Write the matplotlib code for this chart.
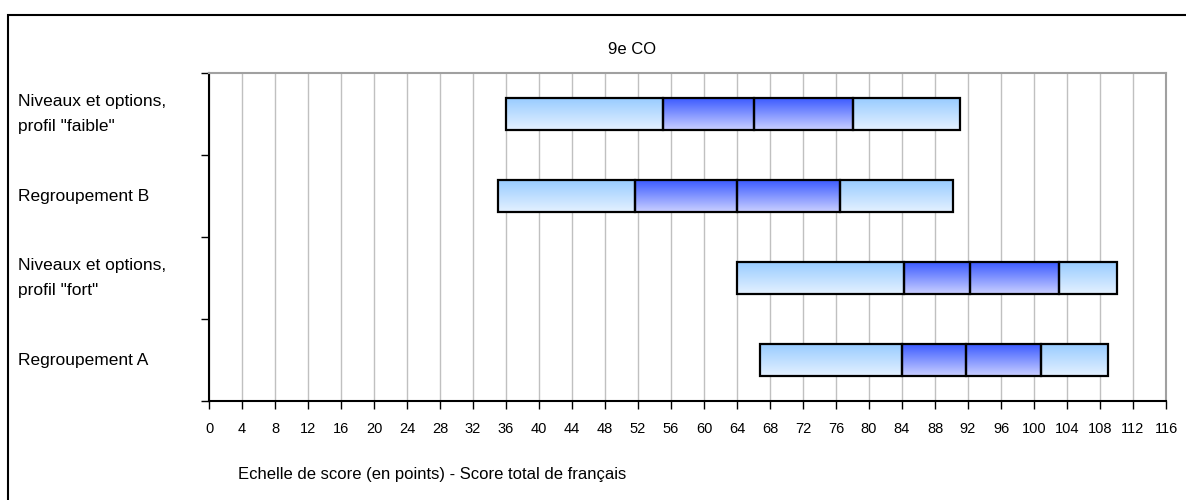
import matplotlib
matplotlib.use("Agg")
import matplotlib.pyplot as plt
import numpy as np
from matplotlib.colors import LinearSegmentedColormap
from matplotlib.patches import Rectangle

plt.rcParams['font.family'] = ['Liberation Sans Narrow', 'Liberation Sans', 'DejaVu Sans']

title = "9e CO"
categories = ['Niveaux et options,\nprofil "faible"', 'Regroupement B',
              'Niveaux et options,\nprofil "fort"', 'Regroupement A']
# boundaries of the segments (score points)
p_start = [36, 35, 64, 66.8]
p_q1 = [55, 51.6, 84.2, 84]
p_med = [66, 64, 92.2, 91.8]
p_q3 = [78, 76.5, 103, 100.9]
p_end = [91, 90.2, 110, 109]
xticks = list(range(0, 117, 4))
xlabel = "Echelle de score (en points) - Score total de français"

W, H = 1186, 500
fig = plt.figure(figsize=(W/100, H/100), dpi=100)
ax = fig.add_axes([209/W, 1-401/H, (1166-209)/W, (401-73)/H])

n = len(categories)
ypos = [n - 0.5 - i for i in range(n)]
bh = 0.39

light = LinearSegmentedColormap.from_list('l', ['#E4F1FF', '#99CCFF'])
dark = LinearSegmentedColormap.from_list('d', ['#C9CFFF', '#3D5CFF'])
grad = np.linspace(0, 1, 64).reshape(-1, 1)

segments = [(p_start, p_q1, light), (p_q1, p_med, dark),
            (p_med, p_q3, dark), (p_q3, p_end, light)]
for lo, hi, cmap in segments:
    widths = [h - l for l, h in zip(lo, hi)]
    bars = ax.barh(ypos, widths, left=lo, height=bh, color='none',
                   edgecolor='black', linewidth=1.6, zorder=3)
    for b in bars:
        x0, y0 = b.get_x(), b.get_y()
        im = ax.imshow(grad, extent=[x0, x0 + b.get_width(), y0, y0 + b.get_height()],
                       origin='lower', cmap=cmap, aspect='auto', zorder=2,
                       interpolation='bilinear')
        im.set_clip_path(b)

ax.set_xlim(0, 116)
ax.set_ylim(0, n)
ax.set_xticks(xticks)
ax.set_xticklabels([str(t) for t in xticks], fontsize=10.5)
ax.set_yticks(range(n + 1))
ax.set_yticklabels([])
ax.tick_params(axis='x', length=6, width=1, direction='out', pad=9)
ax.tick_params(axis='y', length=6, width=1, direction='out')
ax.grid(axis='x', color='#c0c0c0', linewidth=1, zorder=0)
ax.set_axisbelow(True)
for s in ['top', 'right']:
    ax.spines[s].set_color('#a0a0a0')
    ax.spines[s].set_linewidth(1.5)
for s in ['left', 'bottom']:
    ax.spines[s].set_color('black')
    ax.spines[s].set_linewidth(1.5)

for y, lab in zip(ypos, categories):
    fig.text(18/W, ax.transData.transform((0, y))[1] / H, lab, ha='left', va='center',
             fontsize=12.5, linespacing=1.85)

fig.text(632/W, 1-50/H, title, ha='center', va='center', fontsize=12)
fig.text(238/W, 1-475/H, xlabel, ha='left', va='center', fontsize=12)

fig.add_artist(Rectangle((8/W, -0.1), 1.2, 1.1 - 15/H, transform=fig.transFigure,
                         fill=False, edgecolor='black', linewidth=1.5))

fig.savefig('out.png', dpi=100)
